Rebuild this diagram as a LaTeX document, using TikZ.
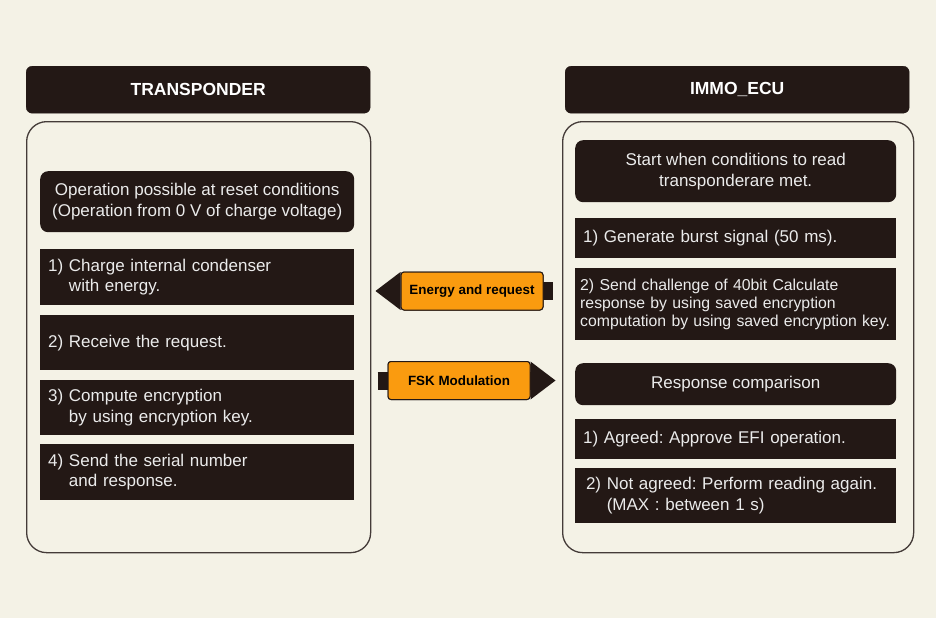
\documentclass[tikz,border=0pt]{standalone}
\usepackage{fontspec}
\setmainfont{Liberation Sans}
\usetikzlibrary{arrows.meta,positioning}
\definecolor{immodark}{RGB}{35,24,21}
\definecolor{immocream}{RGB}{244,242,230}
\definecolor{immoorange}{RGB}{250,155,15}
\frenchspacing
\tikzset{hdr/.style={fill=immodark,draw=immodark,rounded corners=6pt,text=white,font=\fontsize{17.5}{20}\selectfont\bfseries,minimum width=344pt,minimum height=47pt,anchor=north west},
 panel/.style={draw=immodark!85,line width=1.3pt,rounded corners=20pt,fill=immocream,anchor=north west},
 titlebox/.style={fill=immodark,rounded corners=8pt,text=white!92!black,font=\fontsize{17}{21}\selectfont,align=center,anchor=north west},
 stepbox/.style={fill=immodark,text=white!92!black,font=\fontsize{17}{20.5}\selectfont,align=left,anchor=north west,inner xsep=8pt},
 sig/.style={immodark,line width=18pt,-{Triangle[length=25pt,width=38pt,line width=0pt]}},
 siglabel/.style={fill=immoorange,draw=immodark,line width=1pt,rounded corners=3pt,font=\fontsize{13.4}{15}\selectfont\bfseries,minimum width=142pt,minimum height=38pt}}

\begin{document}
\begin{tikzpicture}[x=1pt,y=-1pt]
\fill[immocream] (0,0) rectangle (936,618);
% transponder side
\node[hdr] (thdr) at (26,66) {TRANSPONDER};
\node[panel,minimum width=344pt,minimum height=431pt] (tpanel) at (26,121) {};
\node[titlebox,minimum width=314pt,minimum height=61pt] (t0) at (40,171) {Operation possible at reset conditions\\(Operation from 0 V of charge voltage)};
\node[stepbox,text width=298pt,minimum height=56pt] (t1) at (40,249) {1) Charge internal condenser\\\phantom{1) }with energy.};
\node[stepbox,text width=298pt,minimum height=55pt] (t2) at (40,315) {2) Receive the request.};
\node[stepbox,text width=298pt,minimum height=55pt] (t3) at (40,380) {3) Compute encryption\\\phantom{3) }by using encryption key.};
\node[stepbox,text width=298pt,minimum height=56pt] (t4) at (40,444) {4) Send the serial number\\\phantom{4) }and response.};
% ecu side
\node[hdr] (ehdr) at (565,66) {IMMO\_ECU};
\node[panel,minimum width=351pt,minimum height=431pt] (epanel) at (562,121) {};
\node[titlebox,minimum width=321pt,minimum height=62pt] (e0) at (575,140) {Start when conditions to read\\transponderare met.};
\node[stepbox,text width=305pt,minimum height=40pt] (e1) at (575,218) {1) Generate burst signal (50 ms).};
\node[stepbox,text width=311pt,inner xsep=5pt,minimum height=72pt,font=\fontsize{15.8}{18}\selectfont] (e2) at (575,268) {2) Send challenge of 40bit Calculate\\response by using saved encryption\\computation by using saved encryption key.};
\node[titlebox,minimum width=321pt,minimum height=42pt] (r0) at (575,363) {Response comparison};
\node[stepbox,text width=305pt,minimum height=40pt] (r1) at (575,419) {1) Agreed: Approve EFI operation.};
\node[stepbox,text width=305pt,minimum height=55pt] (r2) at (575,468) {\,2) Not agreed: Perform reading again.\\\phantom{\,2) }(MAX : between 1 s)};
% signals between the two
\node[siglabel] (energy) at (472,291) {};
\node[siglabel] (fsk) at (459,380.5) {};
\draw[sig] ([xshift=9pt]energy.east) -- ([xshift=-25pt]energy.west);
\draw[sig] ([xshift=-10pt]fsk.west) -- ([xshift=25pt]fsk.east);
\node[siglabel] at (energy) {Energy and request};
\node[siglabel] at (fsk) {FSK Modulation};
\end{tikzpicture}
\end{document}
